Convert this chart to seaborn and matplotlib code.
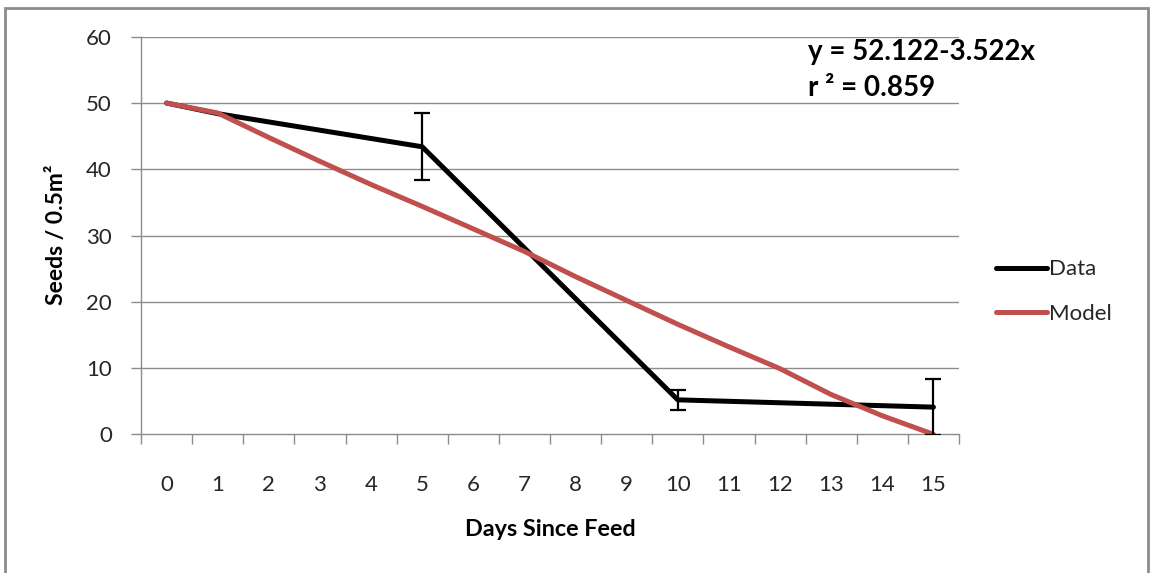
import matplotlib
matplotlib.use("Agg")
import matplotlib.pyplot as plt
from matplotlib.patches import Rectangle
from matplotlib.ticker import FixedLocator
import numpy as np
import pandas as pd
import seaborn as sns

# Observed seed counts (mean and error) on sampled days
data_days = [0, 1, 5, 10, 15]
data_seeds = [50.0, 48.4, 43.4, 5.2, 4.1]
data_err = [0.0, 0.0, 5.05, 1.55, 4.2]

# Fitted model for every day since feeding
model_days = list(range(16))
model_seeds = [50.0, 48.5, 44.8, 41.2, 37.7, 34.4, 31.0, 27.6,
               23.8, 20.2, 16.6, 13.2, 9.9, 6.0, 2.8, 0.0]

day_labels = [str(d) for d in model_days]
y_ticks = [0, 10, 20, 30, 40, 50, 60]

equation_text = "y = 52.122-3.522x"
r2_text = "r \u00b2 = 0.859"

sns.set_theme(style="white")
plt.rcParams["font.family"] = ["Lato", "DejaVu Sans"]

df_data = pd.DataFrame({"day": data_days, "seeds": data_seeds, "series": "Data"})
df_model = pd.DataFrame({"day": model_days, "seeds": model_seeds, "series": "Model"})

fig = plt.figure(figsize=(11.5, 5.73), dpi=100)
ax = fig.add_axes([141 / 1150, 1 - 434.3 / 573, 818 / 1150, 397.5 / 573])

grid_col = "#8c8c8c"
ax.set_axisbelow(True)
for yv in y_ticks[1:]:
    ax.axhline(yv, color=grid_col, lw=1.0, zorder=0)

sns.lineplot(data=df_data, x="day", y="seeds", ax=ax, color="black",
             lw=3.6, label="Data", zorder=3, solid_capstyle="round")
sns.lineplot(data=df_model, x="day", y="seeds", ax=ax, color="#C0504D",
             lw=3.6, label="Model", zorder=4, solid_capstyle="round")

err_days = [d for d, e in zip(data_days, data_err) if e > 0]
err_vals = [s for s, e in zip(data_seeds, data_err) if e > 0]
err_sizes = [e for e in data_err if e > 0]
ax.errorbar(err_days, err_vals, yerr=err_sizes, fmt="none", ecolor="black",
            elinewidth=1.6, capsize=5.5, capthick=1.6, zorder=5)

ax.set_xlim(-0.5, 15.5)
ax.set_ylim(0, 60)

ax.set_xticks(model_days)
ax.set_xticklabels(day_labels)
ax.xaxis.set_minor_locator(FixedLocator(np.arange(-0.5, 16, 1.0)))
ax.tick_params(axis="x", which="major", length=0, pad=29, labelsize=16,
               labelcolor="#262626")
ax.tick_params(axis="x", which="minor", length=7, width=1.0, color=grid_col,
               direction="out", bottom=True)
ax.set_yticks(y_ticks)
ax.tick_params(axis="y", which="major", length=7, width=1.0, color=grid_col,
               direction="out", left=True, pad=14, labelsize=16,
               labelcolor="#262626")

for side in ["top", "right"]:
    ax.spines[side].set_visible(False)
for side in ["left", "bottom"]:
    ax.spines[side].set_color(grid_col)
    ax.spines[side].set_linewidth(1.0)

ax.set_xlabel("")
ax.set_ylabel("")
fig.text(550 / 1150, 1 - 529 / 573, "Days Since Feed", ha="center", va="center",
         fontsize=16.8, fontweight="bold", color="black")
fig.text(56 / 1150, 1 - 235 / 573, "Seeds / 0.5m\u00b2", ha="center",
         va="center", rotation=90, fontsize=16.5, fontweight="bold",
         color="black")

fig.text(808 / 1150, 1 - 52 / 573, equation_text, ha="left", va="center",
         fontsize=20, fontweight="bold", color="black")
fig.text(808 / 1150, 1 - 88 / 573, r2_text, ha="left", va="center",
         fontsize=20, fontweight="bold", color="black")

leg = ax.legend(loc="center left", bbox_to_anchor=(0.866, 0.491),
                bbox_transform=fig.transFigure, frameon=False, fontsize=16,
                handlelength=2.3, handletextpad=0.1, labelspacing=1.1,
                borderpad=0, borderaxespad=0)
for t in leg.get_texts():
    t.set_color("#262626")

fig.patches.append(Rectangle((5 / 1150, -0.01), 1143 / 1150, 1 - 8 / 573 + 0.01,
                             transform=fig.transFigure, fill=False,
                             edgecolor="#8c8c8c", lw=2.0))

fig.savefig("out.png", dpi=100, facecolor="white")
